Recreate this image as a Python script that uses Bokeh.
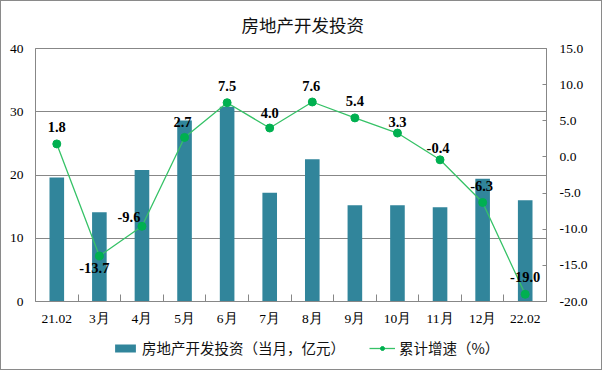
from bokeh.plotting import figure
from bokeh.layouts import column
from bokeh.models import (ColumnDataSource, Range1d, LinearAxis, FixedTicker,
                          Legend, LegendItem, PrintfTickFormatter)
from bokeh.core.properties import value
from bokeh.embed import file_html
from bokeh.resources import INLINE

# ---- data ----
categories = ["21.02", "3月", "4月", "5月", "6月", "7月", "8月", "9月",
              "10月", "11月", "12月", "22.02"]
investment = [19.6, 14.1, 20.8, 28.6, 30.8, 17.2, 22.5, 15.2, 15.2, 14.9, 19.4, 16.0]
growth = [1.8, -13.7, -9.6, 2.7, 7.5, 4.0, 7.6, 5.4, 3.3, -0.4, -6.3, -19.0]
left_ticks = [0, 10, 20, 30, 40]
right_ticks = [-20, -15, -10, -5, 0, 5, 10, 15]
series_names = ["房地产开发投资（当月，亿元）", "累计增速（%）"]

# ---- label placement (style, screen px) ----
label_dx = [0, -5, -13, -2, 0, 0, -1, 0, 0, -2, -1, 0]
label_dy = [-17, 12, -9, -15, -17, -15, -16, -17, -11, -12, -16, -17]

n = len(categories)
xs = [i + 0.5 for i in range(n)]

src = ColumnDataSource(dict(
    x=xs, inv=investment, g=growth,
    lbl=[f"{v:.1f}" for v in growth],
    dx=label_dx, dy=label_dy,
))

GRAY = "#878787"
SERIF = "Liberation Serif"
CJK = "Noto Sans CJK SC"
BAR_STYLE = dict(fill_color="#31859B", line_color=None)
LINE_STYLE = dict(line_color="#36C267", line_width=1.3)
DOT_STYLE = dict(size=8, fill_color="#00B050", line_color="#00B050")

p = figure(width=600, height=330, x_range=Range1d(0, n), y_range=Range1d(0, 40),
           output_backend="svg", toolbar_location=None,
           min_border_left=34, min_border_right=55,
           min_border_top=47, min_border_bottom=30)
p.extra_y_ranges = {"pct": Range1d(-20, 15)}

p.title.text = "房地产开发投资"
p.title.text_font = CJK
p.title.text_font_size = "17.5px"
p.title.text_font_style = "normal"
p.title.text_color = "#111111"
p.title.align = "left"
p.title.offset = 206
p.title.vertical_align = "top"
p.title.standoff = 20

p.outline_line_color = GRAY
p.outline_line_width = 1
p.background_fill_color = "white"
p.border_fill_color = "white"

p.xgrid.visible = False
p.ygrid.ticker = FixedTicker(ticks=left_ticks)
p.ygrid.grid_line_color = GRAY
p.ygrid.grid_line_width = 1

# x axis
xa = p.xaxis[0]
xa.ticker = FixedTicker(ticks=xs, minor_ticks=list(range(1, n)))
xa.major_label_overrides = {x: c for x, c in zip(xs, categories)}
xa.major_tick_in = 0
xa.major_tick_out = 0
xa.minor_tick_in = 7
xa.minor_tick_out = 0
xa.minor_tick_line_color = GRAY
xa.axis_line_color = GRAY
xa.major_label_standoff = 9
xa.major_label_text_font = SERIF
xa.major_label_text_font_size = "13.5px"
xa.major_label_text_color = "black"

# left axis
ya = p.yaxis[0]
ya.ticker = FixedTicker(ticks=left_ticks)
ya.major_tick_in = 0
ya.major_tick_out = 0
ya.minor_tick_line_color = None
ya.axis_line_color = GRAY
ya.major_label_standoff = 12
ya.major_label_text_font = SERIF
ya.major_label_text_font_size = "13.5px"
ya.major_label_text_color = "black"

# right axis
ra = LinearAxis(y_range_name="pct", ticker=FixedTicker(ticks=right_ticks),
                formatter=PrintfTickFormatter(format="%.1f"))
ra.major_tick_in = 4
ra.major_tick_out = 0
ra.major_tick_line_color = GRAY
ra.minor_tick_line_color = None
ra.axis_line_color = GRAY
ra.major_label_standoff = 13
ra.major_label_text_font = SERIF
ra.major_label_text_font_size = "13.5px"
ra.major_label_text_color = "black"
p.add_layout(ra, "right")

p.vbar(x="x", top="inv", width=0.343, source=src, **BAR_STYLE)
p.line(x="x", y="g", source=src, y_range_name="pct", **LINE_STYLE)
p.scatter(x="x", y="g", source=src, y_range_name="pct", **DOT_STYLE)
p.text(x="x", y="g", text="lbl", source=src, y_range_name="pct",
       x_offset="dx", y_offset="dy",
       text_font=value(SERIF), text_font_style="bold", text_font_size="14.5px",
       text_align="center", text_baseline="middle", text_color="black")

# ---- legend strip below the chart ----
lf = figure(width=600, height=38, x_range=Range1d(0, 1), y_range=Range1d(0, 1),
            output_backend="svg", toolbar_location=None,
            x_axis_type=None, y_axis_type=None, min_border=0)
lf.outline_line_color = None
lf.xgrid.visible = False
lf.ygrid.visible = False
lf.background_fill_color = "white"
lf.border_fill_color = "white"
# off-screen proxies: they only supply the legend swatches
proxy = ColumnDataSource(dict(x=[-10, -9], y=[-10, -10]))
lb = lf.vbar(x="x", top="y", width=0.3, source=proxy, **BAR_STYLE)
ll = lf.line(x="x", y="y", source=proxy, **LINE_STYLE)
ld = lf.scatter(x="x", y="y", source=proxy, **DOT_STYLE)

legend = Legend(items=[
    LegendItem(label=series_names[0], renderers=[lb]),
    LegendItem(label=series_names[1], renderers=[ll, ld]),
], orientation="horizontal", location=(77, 11))
legend.glyph_width = 26
legend.glyph_height = 10
legend.label_standoff = 4
legend.spacing = 24
legend.padding = 0
legend.margin = 0
legend.border_line_color = None
legend.background_fill_alpha = 0
legend.label_text_font = CJK
legend.label_text_font_size = "14.5px"
legend.label_text_color = "#111111"
lf.add_layout(legend, "center")

layout = column(p, lf, spacing=0)
layout.styles = {"border": "1px solid #8a8a8a"}

open("out.html", "w").write(file_html(layout, INLINE))
